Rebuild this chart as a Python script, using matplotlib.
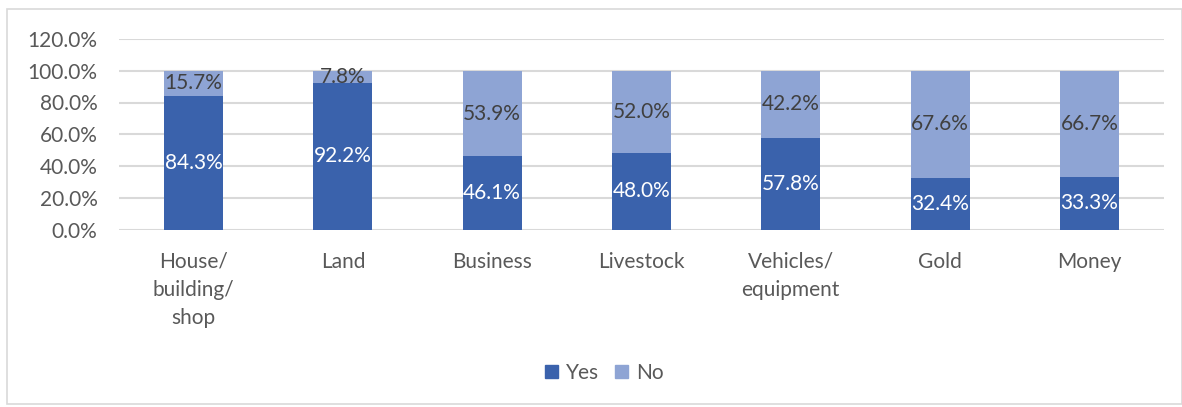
import matplotlib
matplotlib.use("Agg")
import matplotlib.pyplot as plt
from matplotlib.patches import Rectangle, Patch
import numpy as np

categories = ["House/\nbuilding/\nshop", "Land", "Business", "Livestock",
              "Vehicles/\nequipment", "Gold", "Money"]
yes_vals = [84.3, 92.2, 46.1, 48.0, 57.8, 32.4, 33.3]
no_vals = [15.7, 7.8, 53.9, 52.0, 42.2, 67.6, 66.7]
yticks = [0, 20, 40, 60, 80, 100, 120]

YES_C = "#3A62AC"
NO_C = "#8EA4D4"
TXT = "#595959"
GRID = "#D9D9D9"
FS = 15

plt.rcParams['font.family'] = ['Lato', 'DejaVu Sans']

W, H = 1182, 407
fig = plt.figure(figsize=(W / 100, H / 100), dpi=100)
fig.patch.set_facecolor("white")
fig.patches.append(Rectangle((7 / W, 3 / H), (W - 7) / W, (H - 12) / H,
                             transform=fig.transFigure, fill=False,
                             edgecolor=GRID, linewidth=1.2))

ax = fig.add_axes([119 / W, (H - 229.5) / H, (1164 - 119) / W, 190.5 / H])
x = np.arange(len(categories))
bw = 0.395
b1 = ax.bar(x, yes_vals, bw, color=YES_C, label="Yes", zorder=3)
b2 = ax.bar(x, no_vals, bw, bottom=yes_vals, color=NO_C, label="No", zorder=3)

for i in range(len(categories)):
    ax.text(x[i], yes_vals[i] / 2, f"{yes_vals[i]:.1f}%", ha="center", va="center",
            color="white", fontsize=FS, zorder=4)
    ax.text(x[i], yes_vals[i] + no_vals[i] / 2, f"{no_vals[i]:.1f}%", ha="center",
            va="center", color="#404040", fontsize=FS, zorder=4)

ax.set_xlim(-0.5, len(categories) - 0.5)
ax.set_ylim(0, 120)
ax.set_yticks(yticks)
ax.set_yticklabels([f"{v:.1f}%" for v in yticks])
ax.set_xticks(x)
ax.set_xticklabels(categories, linespacing=1.5)
ax.tick_params(axis="y", length=0, pad=15.5, labelsize=FS, labelcolor=TXT)
ax.tick_params(axis="x", length=0, pad=16, labelsize=FS, labelcolor=TXT)
for s in ax.spines.values():
    s.set_visible(False)
ax.yaxis.grid(True, color=GRID, linewidth=1.5, zorder=0)
ax.set_axisbelow(True)
ax.set_facecolor("none")

leg = fig.legend(handles=[Patch(color=YES_C, label="Yes"), Patch(color=NO_C, label="No")],
                 loc="center", bbox_to_anchor=(604 / W, 1 - 373 / H), ncol=2,
                 frameon=False, fontsize=FS, handlelength=0.63, handleheight=0.63,
                 handletextpad=0.38, columnspacing=0.77)
for t in leg.get_texts():
    t.set_color(TXT)

fig.savefig("out.png", dpi=100)
